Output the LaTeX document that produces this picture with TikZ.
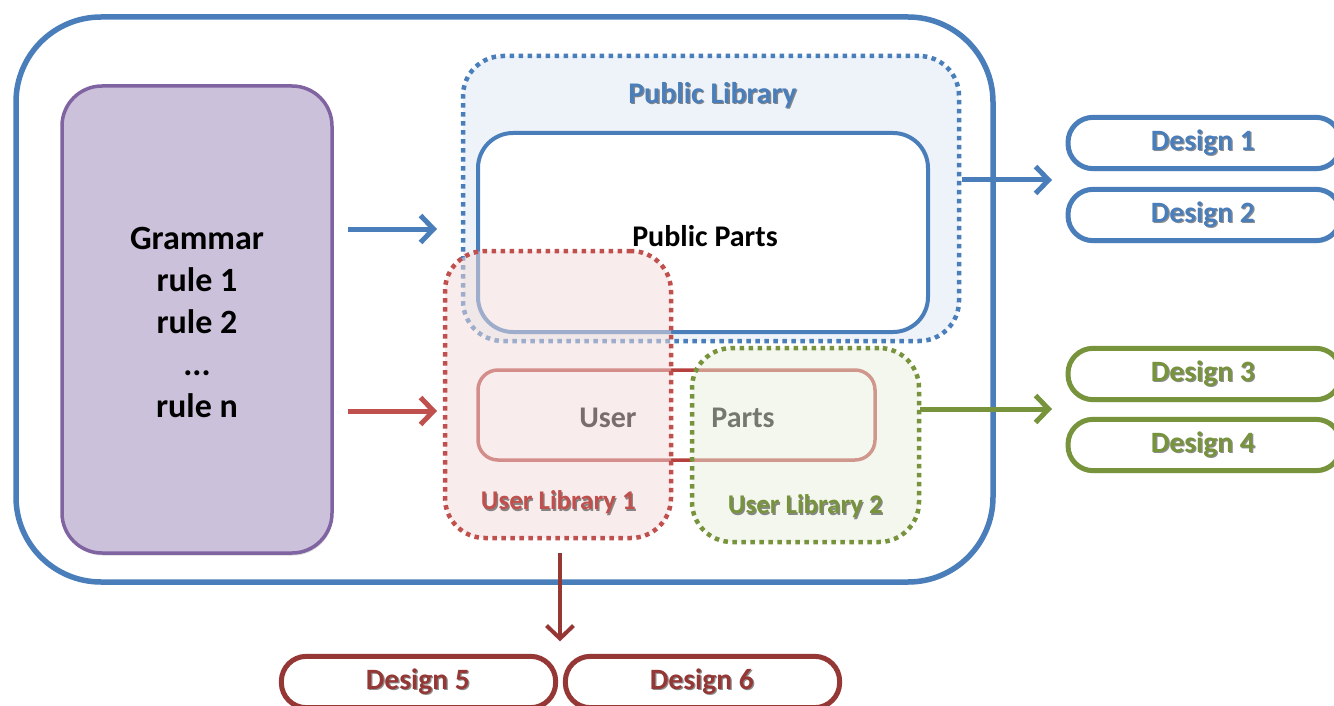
\documentclass[tikz,border=0pt]{standalone}
\usepackage{fontspec}
\setmainfont{Carlito}
\usetikzlibrary{arrows.meta,shadows}
\definecolor{oblue}{HTML}{4A7EBB}
\definecolor{opurple}{HTML}{8064A2}
\definecolor{lavender}{HTML}{CCC1DA}
\definecolor{pubfill}{HTML}{EEF3F9}
\definecolor{ored}{HTML}{C0504D}
\definecolor{partred}{HTML}{B5403D}
\definecolor{dred}{HTML}{953735}
\definecolor{ogreen}{HTML}{77933C}
\definecolor{pinkfill}{HTML}{F2DCDB}
\definecolor{greenfill}{HTML}{EBF1DE}
\tikzset{
  base/.style={inner sep=0pt, outer sep=0pt},
  softshadow/.style={drop shadow={shadow xshift=1pt, shadow yshift=-2.5pt, opacity=0.25, fill=black!60}},
  outerbox/.style={base, draw=oblue, line width=5.5pt, rounded corners=85pt, fill=white, softshadow},
  grambox/.style={base, draw=opurple, line width=3.5pt, rounded corners=40pt, fill=lavender, softshadow},
  dotbox/.style={base, line width=4.5pt, dash pattern=on 4.5pt off 4.5pt, rounded corners=40pt},
  partbox/.style={base, line width=4pt, rounded corners=35pt},
  pill/.style={base, draw, line width=5pt, rounded corners=25pt, fill=white, softshadow,
    minimum width=273pt, minimum height=50pt, font=\fontsize{29.5}{31}\selectfont\bfseries},
  lbl/.style={inner sep=0pt, font=\fontsize{30}{32}\selectfont\bfseries},
  conn/.style={line width=5pt, -{Straight Barb[length=13pt,width=27pt]}},
}
\newcommand{\shtext}[1]{\tikz[baseline=(q.base), x=1pt, y=1pt]{\node[inner sep=0pt, text=black, opacity=0.45, xshift=1.3pt, yshift=-1.3pt] {#1};\node[inner sep=0pt] (q) at (0,0) {#1};}}
\begin{document}
\begin{tikzpicture}[x=1pt,y=-1pt]
\clip (0,0) rectangle (1334,706);
\fill[white] (0,0) rectangle (1334,706);
% outer container
\node[outerbox, minimum width=977pt, minimum height=565pt] (outer) at (504.5,299.5) {};
% grammar
\node[grambox, minimum width=270pt, minimum height=467pt] (gram) at (197,319.5) {};
\node[inner sep=0pt, align=center, font=\fontsize{34}{42}\selectfont\bfseries] (gtext) at (197,322)
  {Grammar\\rule 1\\rule 2\\...\\rule n};
% public library
\node[dotbox, draw=oblue, fill=pubfill, minimum width=496pt, minimum height=285pt] (pub) at (711,198.5) {};
\node[lbl, text=oblue] (publbl) at (713,96) {\shtext{Public Library}};
\node[partbox, draw=oblue, fill=white, minimum width=450pt, minimum height=199pt] (pubparts) at (703,232.5) {};
\node[lbl] (pubptxt) at (705,236) {Public Parts};
% user parts
\node[partbox, draw=partred, line width=3.5pt, rounded corners=20pt, minimum width=397pt, minimum height=90pt] (uparts) at (676.5,415) {};
\node[lbl] (usertxt) at (608,418) {User};
\node[lbl] (partstxt) at (743,418) {Parts};
% user libraries (translucent)
\node[dotbox, draw=ored, fill=pinkfill, fill opacity=0.5, minimum width=226pt, minimum height=287pt] (ul1) at (558,394.5) {};
\node[dotbox, draw=ogreen, fill=greenfill, fill opacity=0.5, minimum width=227pt, minimum height=194pt] (ul2) at (805.5,445) {};
\node[lbl, text=ored, font=\fontsize{27}{30}\selectfont\bfseries] (ul1lbl) at (559,503) {\shtext{User Library 1}};
\node[lbl, text=ogreen, font=\fontsize{27}{30}\selectfont\bfseries] (ul2lbl) at (806,507) {\shtext{User Library 2}};
% designs
\node[pill, draw=oblue, text=oblue] (d1) at (1204.5,143) {\hspace*{-2pt}\shtext{Design 1}};
\node[pill, draw=oblue, text=oblue] (d2) at (1204.5,215) {\hspace*{-2pt}\shtext{Design 2}};
\node[pill, draw=ogreen, text=ogreen] (d3) at (1204.5,374) {\hspace*{-2pt}\shtext{Design 3}};
\node[pill, draw=ogreen, text=ogreen] (d4) at (1204.5,445) {\hspace*{-2pt}\shtext{Design 4}};
\node[pill, draw=dred, text=dred] (d5) at (418.5,682) {\shtext{Design 5}};
\node[pill, draw=dred, text=dred] (d6) at (702.5,682) {\shtext{Design 6}};
% connectors
\draw[conn, oblue, shorten <=16pt, shorten >=26pt] (gram.east |- 0,229) -- (pub.west |- 0,229);
\draw[conn, ored, shorten <=16pt, shorten >=8pt] (gram.east |- 0,411) -- (ul1.west |- 0,411);
\draw[conn, oblue, shorten <=3pt, shorten >=16pt] (pub.east |- 0,180) -- (d1.west |- 0,180);
\draw[conn, ogreen, shorten <=1pt, shorten >=16pt] (ul2.east |- 0,409) -- (d3.west |- 0,409);
\draw[conn, dred, line width=4pt, shorten <=15pt, shorten >=15pt] (ul1.south -| 560,0) -- (d5.north -| 560,0);
\end{tikzpicture}
\end{document}
